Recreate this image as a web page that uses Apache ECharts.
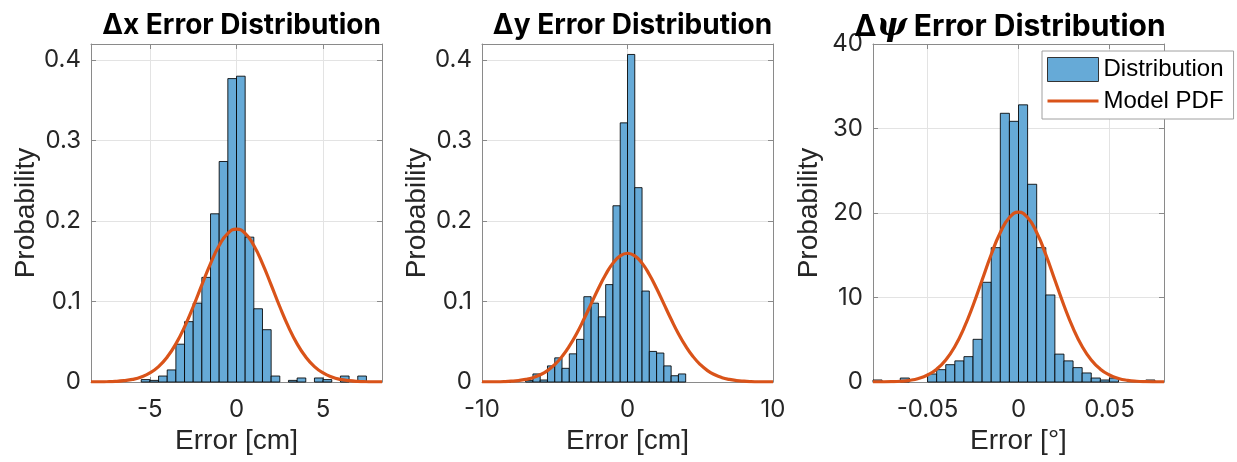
<!DOCTYPE html>
<html><head><meta charset="utf-8">
<script src="https://cdn.jsdelivr.net/npm/echarts@6/dist/echarts.min.js"></script>
<style>html,body{margin:0;padding:0;background:#fff}#c{width:1237px;height:462px}</style>
</head><body><div id="c"></div>
<script>
// ---------- data ----------
const xNames = ['Error [cm]', 'Error [cm]', 'Error [°]'];
const yName = 'Probability';
const xLim = [[-8.4, 8.4], [-10, 10], [-0.08, 0.08]];
const yMax = [0.42, 0.42, 40];
const xTicks = [[-5, 0, 5], [-10, 0, 10], [-0.05, 0, 0.05]];
const yTicks = [[0, 0.1, 0.2, 0.3, 0.4], [0, 0.1, 0.2, 0.3, 0.4], [0, 10, 20, 30, 40]];

const binWidth = [0.5, 0.5, 0.005];
const binStart = [-5.5, -8.5, -0.08];
const histX = [0.003, 0.002, 0.0074, 0.015, 0.047, 0.075, 0.098, 0.130, 0.209, 0.274, 0.377, 0.380, 0.180,
  0.091, 0.065, 0.0074, 0, 0.002, 0.005, 0, 0.005, 0.003, 0, 0.0074, 0, 0.0074];
const histY = [0.001, 0, 0, 0.002, 0.010, 0.0025, 0.020, 0.030, 0.017, 0.035, 0.053, 0.106, 0.098, 0.081,
  0.121, 0.219, 0.322, 0.407, 0.2415, 0.113, 0.038, 0.036, 0.020, 0.0078, 0.010];
const histPsi = [0.24, 0, 0, 0.47, 0, 0, 0.95, 1.46, 2.05, 2.5, 3.0, 5.05, 11.8, 15.9, 31.8, 30.85, 32.8,
  23.4, 15.9, 10.3, 3.3, 2.5, 1.7, 1.07, 0.47, 0.24, 0.47, 0, 0, 0, 0.24];

const pdfXx = [-8.4, -8, -7.5, -7, -6.5, -6, -5.5, -5, -4.5, -4, -3.5, -3, -2.5, -2, -1.5, -1, -0.5, 0,
  0.5, 1, 1.5, 2, 2.5, 3, 3.5, 4, 4.5, 5, 5.5, 6, 6.5, 7, 7.5, 8, 8.4];
const pdfXy = [0.0001, 0.0001, 0.0003, 0.0007, 0.0016, 0.0032, 0.0062, 0.0112, 0.0191, 0.0310, 0.0474,
  0.0685, 0.0935, 0.1207, 0.1472, 0.1696, 0.1847, 0.190, 0.1847, 0.1696, 0.1472, 0.1207, 0.0935, 0.0685,
  0.0474, 0.0310, 0.0191, 0.0112, 0.0062, 0.0032, 0.0016, 0.0007, 0.0003, 0.0001, 0.0001];
const pdfYx = [-10, -9.5, -9, -8.5, -8, -7.5, -7, -6.5, -6, -5.5, -5, -4.5, -4, -3.5, -3, -2.5, -2, -1.5,
  -1, -0.5, 0, 0.5, 1, 1.5, 2, 2.5, 3, 3.5, 4, 4.5, 5, 5.5, 6, 6.5, 7, 7.5, 8, 8.5, 9, 9.5, 10];
const pdfYy = [0.0001, 0.0001, 0.0002, 0.0005, 0.0010, 0.0018, 0.0032, 0.0054, 0.0090, 0.0142, 0.0217,
  0.0317, 0.0445, 0.0600, 0.0779, 0.0970, 0.1162, 0.1336, 0.1477, 0.1568, 0.160, 0.1568, 0.1477, 0.1336,
  0.1162, 0.0970, 0.0779, 0.0600, 0.0445, 0.0317, 0.0217, 0.0142, 0.0090, 0.0054, 0.0032, 0.0018, 0.0010,
  0.0005, 0.0002, 0.0001, 0.0001];
const pdfPsix = [-0.08, -0.075, -0.07, -0.065, -0.06, -0.055, -0.05, -0.045, -0.04, -0.035, -0.03, -0.025,
  -0.02, -0.015, -0.01, -0.005, 0, 0.005, 0.01, 0.015, 0.02, 0.025, 0.03, 0.035, 0.04, 0.045, 0.05, 0.055,
  0.06, 0.065, 0.07, 0.075, 0.08];
const pdfPsiy = [0.006, 0.015, 0.04, 0.09, 0.20, 0.42, 0.83, 1.52, 2.61, 4.21, 6.38, 9.06, 12.07, 15.09,
  17.69, 19.47, 20.1, 19.47, 17.69, 15.09, 12.07, 9.06, 6.38, 4.21, 2.61, 1.52, 0.83, 0.42, 0.20, 0.09,
  0.04, 0.015, 0.006];

// ---------- build ----------
const hists = [histX, histY, histPsi];
const pdfs = [[pdfXx, pdfXy], [pdfYx, pdfYy], [pdfPsix, pdfPsiy]];
const gridLeft = [91, 482, 873];
const GW = 291, GT = 44, GH = 338;
const boxColor = '#8a8a8a';
const tickFont = { fontFamily: 'Inter', fontSize: 24, color: '#262626' };
const nameFont = { fontFamily: 'Liberation Sans', fontSize: 28, color: '#262626' };

const grid = [], xAxis = [], yAxis = [], series = [], title = [];
for (let i = 0; i < 3; i++) {
  grid.push({ left: gridLeft[i], top: GT, width: GW, height: GH, containLabel: false });
  const baseX = {
    type: 'value', gridIndex: i, min: xLim[i][0], max: xLim[i][1],
    axisLine: { show: true, onZero: false, lineStyle: { color: boxColor, width: 1 } },
    axisTick: { show: true, inside: true, length: 5, customValues: xTicks[i], lineStyle: { color: boxColor } },
    splitLine: { show: false }
  };
  xAxis.push(Object.assign({}, baseX, {
    position: 'bottom',
    axisLabel: Object.assign({ show: true, margin: 16, customValues: xTicks[i] }, tickFont),
    splitLine: { show: true, lineStyle: { color: '#e3e3e3', width: 1 } },
    name: xNames[i], nameLocation: 'middle', nameGap: 44, nameTextStyle: nameFont
  }));
  xAxis.push(Object.assign({}, baseX, { position: 'top', axisLabel: { show: false } }));
  const baseY = {
    type: 'value', gridIndex: i, min: 0, max: yMax[i],
    axisLine: { show: true, onZero: false, lineStyle: { color: boxColor, width: 1 } },
    axisTick: { show: true, inside: true, length: 5, customValues: yTicks[i], lineStyle: { color: boxColor } },
    splitLine: { show: false }
  };
  yAxis.push(Object.assign({}, baseY, {
    position: 'left',
    axisLabel: Object.assign({ show: true, margin: 10, customValues: yTicks[i] }, tickFont),
    splitLine: { show: true, lineStyle: { color: '#e3e3e3', width: 1 } },
    name: yName, nameLocation: 'middle', nameGap: 50, nameTextStyle: nameFont
  }));
  yAxis.push(Object.assign({}, baseY, { position: 'right', axisLabel: { show: false } }));

  const h = hists[i];
  const data = [];
  for (let k = 0; k < h.length; k++) {
    const x0 = binStart[i] + k * binWidth[i];
    data.push([x0, x0 + binWidth[i], h[k]]);
  }
  series.push({
    type: 'custom', name: 'Distribution', xAxisIndex: 2 * i, yAxisIndex: 2 * i, z: 2,
    encode: { x: [0, 1], y: 2 },
    itemStyle: { color: '#66aad7' },
    renderItem: function (params, api) {
      const v = api.value(2);
      if (!(v > 0)) return null;
      const p0 = api.coord([api.value(0), v]);
      const p1 = api.coord([api.value(1), 0]);
      return {
        type: 'rect',
        shape: { x: p0[0], y: p0[1], width: p1[0] - p0[0], height: p1[1] - p0[1] },
        style: { fill: '#66aad7', stroke: 'rgba(0,0,0,0.85)', lineWidth: 1 }
      };
    },
    data: data
  });
  const px = pdfs[i][0], py = pdfs[i][1];
  series.push({
    type: 'line', name: 'Model PDF', xAxisIndex: 2 * i, yAxisIndex: 2 * i, z: 3,
    symbol: 'none', smooth: true, clip: true,
    lineStyle: { color: '#d95319', width: 3.2 }, itemStyle: { color: '#d95319' },
    data: px.map((x, k) => [x, py[k]])
  });
}

const tStyle = { fontFamily: 'Inter', fontSize: 28, fontWeight: 'bold', color: '#000' };
const tStyle3 = Object.assign({}, tStyle, { fontSize: 30 });
title.push({ text: 'Δx Error Distribution', left: gridLeft[0] + GW / 2, top: 7, textAlign: 'center', textStyle: tStyle });
title.push({ text: 'Δy Error Distribution', left: gridLeft[1] + GW / 2, top: 7, textAlign: 'center', textStyle: tStyle });
title.push({
  text: '{a|Δ}{b|ψ}{a| Error Distribution}', left: 1005, top: 6, textAlign: 'center',
  textStyle: Object.assign({}, tStyle3, {
    rich: { a: tStyle3, b: Object.assign({}, tStyle3, { fontSize: 32, fontStyle: 'italic', fontFamily: 'DejaVu Serif' }) }
  })
});

const chart = echarts.init(document.getElementById('c'), null, { renderer: 'canvas' });
chart.setOption({
  animation: false,
  backgroundColor: '#fff',
  title: title,
  grid: grid, xAxis: xAxis, yAxis: yAxis, series: series,
  legend: {
    orient: 'vertical', left: 1042, top: 51,
    backgroundColor: '#fff', borderColor: '#a0a0a0', borderWidth: 1,
    padding: [6, 10, 6, 5], itemGap: 7, itemWidth: 51, itemHeight: 24,
    textStyle: { fontFamily: 'Liberation Sans', fontSize: 24, color: '#000' },
    data: [
      { name: 'Distribution', icon: 'rect', itemStyle: { color: '#66aad7', borderColor: '#333', borderWidth: 1 } },
      { name: 'Model PDF', icon: 'path://M0,0 L0.01,0 L0.01,0.01 Z M51,24 L50.99,24 L50.99,23.99 Z M0,10.5 L51,10.5 L51,13.5 L0,13.5 Z',
        itemStyle: { color: '#d95319', borderWidth: 0 } }
    ],
    selectedMode: false, z: 10
  }
});
</script></body></html>
